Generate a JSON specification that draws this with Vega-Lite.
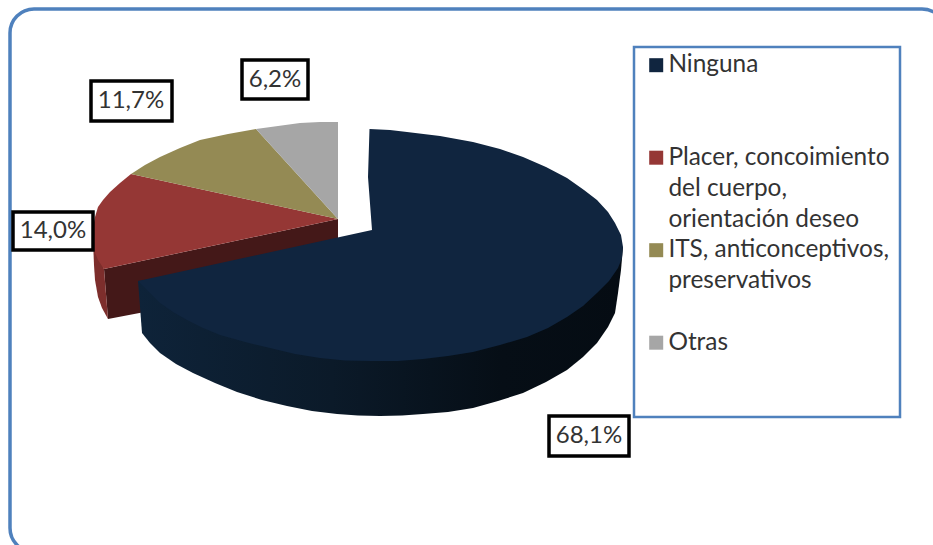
{
"$schema":"https://vega.github.io/schema/vega-lite/v6.json",
"width":933,"height":545,"padding":0,"autosize":"none",
"background":"white",
"config":{"view":{"stroke":null},"font":"Lato"},
"datasets":{
"tapas":[
{"categoria":"Ninguna","orden":1,"x":369.5,"y":129},{"categoria":"Ninguna","orden":2,"x":390,"y":130},{"categoria":"Ninguna","orden":3,"x":407,"y":132},{"categoria":"Ninguna","orden":4,"x":440,"y":136},{"categoria":"Ninguna","orden":5,"x":473,"y":142},{"categoria":"Ninguna","orden":6,"x":500,"y":149},{"categoria":"Ninguna","orden":7,"x":523,"y":157},{"categoria":"Ninguna","orden":8,"x":546,"y":167},{"categoria":"Ninguna","orden":9,"x":567,"y":178},{"categoria":"Ninguna","orden":10,"x":584,"y":190},{"categoria":"Ninguna","orden":11,"x":597,"y":200},{"categoria":"Ninguna","orden":12,"x":608,"y":212},{"categoria":"Ninguna","orden":13,"x":615,"y":223},{"categoria":"Ninguna","orden":14,"x":621,"y":235},{"categoria":"Ninguna","orden":15,"x":623,"y":247},{"categoria":"Ninguna","orden":16,"x":622,"y":258},{"categoria":"Ninguna","orden":17,"x":618,"y":268},{"categoria":"Ninguna","orden":18,"x":609,"y":281},{"categoria":"Ninguna","orden":19,"x":597,"y":293},{"categoria":"Ninguna","orden":20,"x":583,"y":306},{"categoria":"Ninguna","orden":21,"x":567,"y":317},{"categoria":"Ninguna","orden":22,"x":548,"y":328},{"categoria":"Ninguna","orden":23,"x":527,"y":337},{"categoria":"Ninguna","orden":24,"x":500,"y":345},{"categoria":"Ninguna","orden":25,"x":473,"y":352},{"categoria":"Ninguna","orden":26,"x":448,"y":356},{"categoria":"Ninguna","orden":27,"x":423,"y":359},{"categoria":"Ninguna","orden":28,"x":398,"y":361},{"categoria":"Ninguna","orden":29,"x":372,"y":361},{"categoria":"Ninguna","orden":30,"x":345,"y":360.5},{"categoria":"Ninguna","orden":31,"x":320,"y":358},{"categoria":"Ninguna","orden":32,"x":295,"y":354},{"categoria":"Ninguna","orden":33,"x":270,"y":348},{"categoria":"Ninguna","orden":34,"x":245,"y":342},{"categoria":"Ninguna","orden":35,"x":220,"y":335},{"categoria":"Ninguna","orden":36,"x":203,"y":328},{"categoria":"Ninguna","orden":37,"x":187,"y":320},{"categoria":"Ninguna","orden":38,"x":173,"y":312},{"categoria":"Ninguna","orden":39,"x":160,"y":303},{"categoria":"Ninguna","orden":40,"x":149,"y":292},{"categoria":"Ninguna","orden":41,"x":138,"y":281},{"categoria":"Ninguna","orden":42,"x":372,"y":230},{"categoria":"Ninguna","orden":43,"x":368,"y":177},
{"categoria":"Placer, concoimiento|del cuerpo,|orientación deseo","orden":1,"x":338,"y":219},{"categoria":"Placer, concoimiento|del cuerpo,|orientación deseo","orden":2,"x":131,"y":174},{"categoria":"Placer, concoimiento|del cuerpo,|orientación deseo","orden":3,"x":120,"y":183},{"categoria":"Placer, concoimiento|del cuerpo,|orientación deseo","orden":4,"x":110,"y":192},{"categoria":"Placer, concoimiento|del cuerpo,|orientación deseo","orden":5,"x":103,"y":200},{"categoria":"Placer, concoimiento|del cuerpo,|orientación deseo","orden":6,"x":98,"y":207},{"categoria":"Placer, concoimiento|del cuerpo,|orientación deseo","orden":7,"x":95,"y":217},{"categoria":"Placer, concoimiento|del cuerpo,|orientación deseo","orden":8,"x":93,"y":227},{"categoria":"Placer, concoimiento|del cuerpo,|orientación deseo","orden":9,"x":93,"y":240},{"categoria":"Placer, concoimiento|del cuerpo,|orientación deseo","orden":10,"x":94,"y":250},{"categoria":"Placer, concoimiento|del cuerpo,|orientación deseo","orden":11,"x":98,"y":260},{"categoria":"Placer, concoimiento|del cuerpo,|orientación deseo","orden":12,"x":104,"y":269},
{"categoria":"ITS, anticonceptivos,|preservativos","orden":1,"x":338,"y":219},{"categoria":"ITS, anticonceptivos,|preservativos","orden":2,"x":256,"y":129},{"categoria":"ITS, anticonceptivos,|preservativos","orden":3,"x":228,"y":134},{"categoria":"ITS, anticonceptivos,|preservativos","orden":4,"x":200,"y":140},{"categoria":"ITS, anticonceptivos,|preservativos","orden":5,"x":180,"y":148},{"categoria":"ITS, anticonceptivos,|preservativos","orden":6,"x":160,"y":157},{"categoria":"ITS, anticonceptivos,|preservativos","orden":7,"x":145,"y":165},{"categoria":"ITS, anticonceptivos,|preservativos","orden":8,"x":131,"y":174},
{"categoria":"Otras","orden":1,"x":338,"y":219},{"categoria":"Otras","orden":2,"x":338,"y":122},{"categoria":"Otras","orden":3,"x":320,"y":122},{"categoria":"Otras","orden":4,"x":300,"y":123},{"categoria":"Otras","orden":5,"x":278,"y":126},{"categoria":"Otras","orden":6,"x":256,"y":129}
],
"lados":[
{"pieza":"azul","orden":1,"x":138,"y":281},{"pieza":"azul","orden":2,"x":142,"y":333},{"pieza":"azul","orden":3,"x":150,"y":343},{"pieza":"azul","orden":4,"x":160,"y":353},{"pieza":"azul","orden":5,"x":176,"y":364},{"pieza":"azul","orden":6,"x":193,"y":373},{"pieza":"azul","orden":7,"x":215,"y":383},{"pieza":"azul","orden":8,"x":237,"y":392},{"pieza":"azul","orden":9,"x":262,"y":400},{"pieza":"azul","orden":10,"x":287,"y":406},{"pieza":"azul","orden":11,"x":312,"y":411},{"pieza":"azul","orden":12,"x":337,"y":414},{"pieza":"azul","orden":13,"x":358,"y":415.5},{"pieza":"azul","orden":14,"x":380,"y":416},{"pieza":"azul","orden":15,"x":402,"y":415.5},{"pieza":"azul","orden":16,"x":423,"y":414},{"pieza":"azul","orden":17,"x":448,"y":412},{"pieza":"azul","orden":18,"x":473,"y":408},{"pieza":"azul","orden":19,"x":498,"y":401},{"pieza":"azul","orden":20,"x":523,"y":393},{"pieza":"azul","orden":21,"x":546,"y":382},{"pieza":"azul","orden":22,"x":567,"y":370},{"pieza":"azul","orden":23,"x":583,"y":357},{"pieza":"azul","orden":24,"x":597,"y":343},{"pieza":"azul","orden":25,"x":608,"y":327},{"pieza":"azul","orden":26,"x":615,"y":313},{"pieza":"azul","orden":27,"x":618,"y":293},{"pieza":"azul","orden":28,"x":621,"y":270},{"pieza":"azul","orden":29,"x":623,"y":247},{"pieza":"azul","orden":30,"x":400,"y":250},
{"pieza":"rojo interior","orden":1,"x":104,"y":269},{"pieza":"rojo interior","orden":2,"x":338,"y":219},{"pieza":"rojo interior","orden":3,"x":338,"y":275},{"pieza":"rojo interior","orden":4,"x":108,"y":319},
{"pieza":"rojo exterior","orden":1,"x":93,"y":240},{"pieza":"rojo exterior","orden":2,"x":104,"y":269},{"pieza":"rojo exterior","orden":3,"x":108,"y":319},{"pieza":"rojo exterior","orden":4,"x":102,"y":308},{"pieza":"rojo exterior","orden":5,"x":98,"y":297},{"pieza":"rojo exterior","orden":6,"x":95,"y":280},{"pieza":"rojo exterior","orden":7,"x":94,"y":265}
],
"etiquetas":[
{"texto":"68,1%","x0":549,"x1":629,"y0":416,"y1":456,"cx":589,"cy":436},
{"texto":"14,0%","x0":13,"x1":93,"y0":212,"y1":250,"cx":53,"cy":231},
{"texto":"11,7%","x0":91,"x1":172,"y0":81,"y1":121,"cx":131,"cy":101},
{"texto":"6,2%","x0":242,"x1":308,"y0":60,"y1":99,"cx":275,"cy":80}
],
"marcos":[
{"marco":"exterior","x0":10,"x1":946,"y0":9,"y1":552},
{"marco":"leyenda","x0":634,"x1":900,"y0":47,"y1":417}
]
},
"layer":[
{"data":{"name":"marcos"},"transform":[{"filter":"datum.marco==='exterior'"}],
 "mark":{"type":"rect","fill":null,"stroke":"#4f81bd","strokeWidth":3.5,"cornerRadius":24},
 "encoding":{"x":{"field":"x0","type":"quantitative","scale":{"domain":[0,933],"range":[0,933],"nice":false,"zero":false},"axis":null},"x2":{"field":"x1"},"y":{"field":"y0","type":"quantitative","scale":{"domain":[0,545],"range":[0,545],"nice":false,"zero":false},"axis":null},"y2":{"field":"y1"}}},
{"data":{"name":"marcos"},"transform":[{"filter":"datum.marco==='leyenda'"}],
 "mark":{"type":"rect","fill":null,"stroke":"#4f81bd","strokeWidth":2.5},
 "encoding":{"x":{"field":"x0","type":"quantitative","scale":{"domain":[0,933],"range":[0,933],"nice":false,"zero":false},"axis":null},"x2":{"field":"x1"},"y":{"field":"y0","type":"quantitative","scale":{"domain":[0,545],"range":[0,545],"nice":false,"zero":false},"axis":null},"y2":{"field":"y1"}}},
{"data":{"name":"lados"},"transform":[{"filter":"datum.pieza==='rojo interior'"}],
 "mark":{"type":"line","fill":"#441818","stroke":null},
 "encoding":{"x":{"field":"x","type":"quantitative","scale":{"domain":[0,933],"range":[0,933],"nice":false,"zero":false},"axis":null},"y":{"field":"y","type":"quantitative","scale":{"domain":[0,545],"range":[0,545],"nice":false,"zero":false},"axis":null},"order":{"field":"orden"}}},
{"data":{"name":"lados"},"transform":[{"filter":"datum.pieza==='rojo exterior'"}],
 "mark":{"type":"line","fill":"#7d2e2c","stroke":null},
 "encoding":{"x":{"field":"x","type":"quantitative","scale":{"domain":[0,933],"range":[0,933],"nice":false,"zero":false},"axis":null},"y":{"field":"y","type":"quantitative","scale":{"domain":[0,545],"range":[0,545],"nice":false,"zero":false},"axis":null},"order":{"field":"orden"}}},
{"data":{"name":"lados"},"transform":[{"filter":"datum.pieza==='azul'"}],
 "mark":{"type":"line","stroke":null,"fill":{"x1":0,"x2":1,"y1":0,"y2":0,"gradient":"linear","stops":[{"offset":0,"color":"#0e2339"},{"offset":0.4,"color":"#0b1a29"},{"offset":0.75,"color":"#060e16"},{"offset":1,"color":"#050c13"}]}},
 "encoding":{"x":{"field":"x","type":"quantitative","scale":{"domain":[0,933],"range":[0,933],"nice":false,"zero":false},"axis":null},"y":{"field":"y","type":"quantitative","scale":{"domain":[0,545],"range":[0,545],"nice":false,"zero":false},"axis":null},"order":{"field":"orden"}}},
{"data":{"name":"tapas"},
 "mark":{"type":"line","stroke":null,"filled":true},
 "encoding":{"x":{"field":"x","type":"quantitative","scale":{"domain":[0,933],"range":[0,933],"nice":false,"zero":false},"axis":null},"y":{"field":"y","type":"quantitative","scale":{"domain":[0,545],"range":[0,545],"nice":false,"zero":false},"axis":null},"order":{"field":"orden"},
  "fill":{"field":"categoria","type":"nominal","sort":null,
   "scale":{"domain":["Ninguna","Placer, concoimiento|del cuerpo,|orientación deseo","ITS, anticonceptivos,|preservativos","Otras"],"range":["#10253f","#953735","#948a54","#a6a6a6"]},
   "legend":{"title":null,"orient":"none","legendX":644,"legendY":53,"padding":0,"symbolType":"square","symbolSize":196,"symbolStrokeWidth":0,"symbolOpacity":1,"labelFont":"Lato","labelFontSize":24.4,"labelColor":"#333333","labelOffset":0,"labelLimit":300,"rowPadding":5.5,"gridAlign":"all","labelBaseline":"middle","labelExpr":"split(datum.label,'|')","encoding":{"labels":{"lineHeight":{"value":31}}}}}}},
{"data":{"name":"etiquetas"},
 "mark":{"type":"rect","fill":"white","stroke":"black","strokeWidth":3.5},
 "encoding":{"x":{"field":"x0","type":"quantitative","scale":{"domain":[0,933],"range":[0,933],"nice":false,"zero":false},"axis":null},"x2":{"field":"x1"},"y":{"field":"y0","type":"quantitative","scale":{"domain":[0,545],"range":[0,545],"nice":false,"zero":false},"axis":null},"y2":{"field":"y1"}}},
{"data":{"name":"etiquetas"},
 "mark":{"type":"text","font":"Lato","fontSize":24,"color":"#333333","align":"center","baseline":"middle"},
 "encoding":{"x":{"field":"cx","type":"quantitative","scale":{"domain":[0,933],"range":[0,933],"nice":false,"zero":false},"axis":null},"y":{"field":"cy","type":"quantitative","scale":{"domain":[0,545],"range":[0,545],"nice":false,"zero":false},"axis":null},"text":{"field":"texto"}}}
]
}
